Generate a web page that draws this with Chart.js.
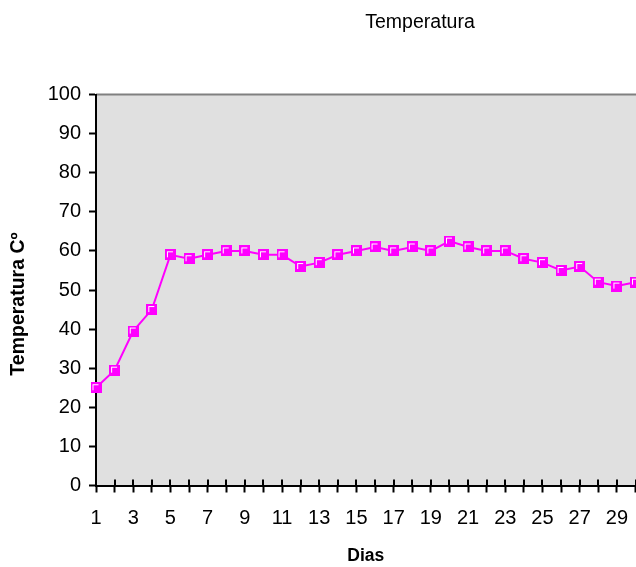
<!DOCTYPE html>
<html>
<head>
<meta charset="utf-8">
<title>Temperatura</title>
<script src="https://cdn.jsdelivr.net/npm/chart.js@4/dist/chart.umd.min.js"></script>
<style>
  html, body { margin: 0; padding: 0; background: #ffffff; overflow: hidden; width: 636px; height: 567px; }
  #wrap { width: 840px; height: 567px; }
</style>
</head>
<body>
<div id="wrap"><canvas id="chart" width="840" height="567"></canvas></div>
<script>
// Daily readings
const dias = ['1','2','3','4','5','6','7','8','9','10','11','12','13','14','15',
              '16','17','18','19','20','21','22','23','24','25','26','27','28','29','30'];
const temperatura = [25, 29.5, 39.5, 45, 59, 58, 59, 60, 60, 59, 59, 56, 57, 59, 60,
                     61, 60, 61, 60, 62.5, 61, 60, 60, 58, 57, 55, 56, 52, 51, 52];
const yTicks = [0, 10, 20, 30, 40, 50, 60, 70, 80, 90, 100];

const FONT = '"Liberation Sans", Arial, sans-serif';
const MAGENTA = '#FF00FF';

// Square marker: magenta block with a thin light bevel on the upper-left
function makeMarker() {
  const c = document.createElement('canvas');
  c.width = 11; c.height = 11;
  const g = c.getContext('2d');
  g.fillStyle = MAGENTA;
  g.fillRect(0, 0, 11, 11);
  g.fillStyle = '#ffffff';
  g.fillRect(2, 2, 6, 1);
  g.fillRect(2, 2, 1, 6);
  return c;
}

// Grey plot background with a dark top edge
const plotBackground = {
  id: 'plotBackground',
  beforeDraw(chart) {
    const { ctx, chartArea: a } = chart;
    ctx.save();
    ctx.fillStyle = '#E0E0E0';
    ctx.fillRect(a.left, a.top, a.right - a.left + 10, a.bottom - a.top);
    ctx.strokeStyle = '#808080';
    ctx.lineWidth = 2;
    ctx.beginPath();
    ctx.moveTo(a.left, a.top);
    ctx.lineTo(a.right + 10, a.top);
    ctx.stroke();
    ctx.restore();
  }
};

// Category ticks cross the axis line; draw the inner half
const innerTicks = {
  id: 'innerTicks',
  afterDraw(chart) {
    const { ctx } = chart;
    const xs = chart.scales.x;
    const bottom = chart.chartArea.bottom;
    ctx.save();
    ctx.strokeStyle = '#000000';
    ctx.lineWidth = 2;
    ctx.beginPath();
    for (let i = 0; i < dias.length; i++) {
      const px = Math.round(xs.getPixelForTick(i));
      ctx.moveTo(px, bottom - 6);
      ctx.lineTo(px, bottom);
    }
    ctx.stroke();
    ctx.restore();
  }
};

// Rotated value-axis caption
const yCaption = {
  id: 'yCaption',
  afterDraw(chart) {
    const { ctx } = chart;
    ctx.save();
    ctx.translate(19, 304);
    ctx.rotate(-Math.PI / 2);
    ctx.font = 'bold 19.5px ' + FONT;
    ctx.fillStyle = '#000000';
    ctx.textAlign = 'center';
    ctx.textBaseline = 'middle';
    ctx.fillText('Temperatura Cº', 0, 0);
    ctx.restore();
  }
};

new Chart(document.getElementById('chart'), {
  type: 'line',
  data: {
    labels: dias,
    datasets: [{
      label: 'Temperatura',
      data: temperatura,
      borderColor: MAGENTA,
      backgroundColor: MAGENTA,
      borderWidth: 2,
      pointStyle: makeMarker(),
      pointRadius: 5.5,
      pointHoverRadius: 5.5,
      tension: 0,
      clip: false
    }]
  },
  options: {
    responsive: false,
    animation: false,
    events: [],
    layout: { padding: 0 },
    plugins: {
      legend: { display: false },
      tooltip: { enabled: false },
      title: {
        display: true,
        text: 'Temperatura',
        color: '#000000',
        font: { family: FONT, size: 19.5, weight: 'normal' },
        padding: { top: 11, bottom: 60.1 }
      }
    },
    scales: {
      x: {
        type: 'category',
        offset: false,
        border: { display: true, color: '#000000', width: 2 },
        grid: { display: true, drawOnChartArea: false, drawTicks: true, tickLength: 7, tickWidth: 2, tickColor: '#000000' },
        ticks: {
          autoSkip: false,
          maxRotation: 0,
          padding: 14,
          color: '#000000',
          font: { family: FONT, size: 20 },
          callback: (v, i) => (i % 2 === 0 ? dias[i] : '')
        },
        title: {
          display: true,
          text: 'Dias',
          color: '#000000',
          font: { family: FONT, size: 17.5, weight: 'bold' },
          padding: { top: 0, bottom: 0 }
        },
        afterFit(s) { s.height = 81.5; }
      },
      y: {
        min: 0,
        max: 100,
        border: { display: true, color: '#000000', width: 2 },
        grid: { display: true, drawOnChartArea: false, drawTicks: true, tickLength: 7, tickWidth: 2, tickColor: '#000000' },
        afterBuildTicks(s) { s.ticks = yTicks.map(v => ({ value: v })); },
        ticks: {
          padding: 8,
          color: '#000000',
          font: { family: FONT, size: 20 }
        },
        afterFit(s) { s.width = 96; }
      },
      // empty margin on the right so the plot ends at the window edge
      margin: {
        type: 'linear',
        position: 'right',
        min: 0,
        max: 1,
        border: { display: false },
        grid: { display: false, drawTicks: false },
        ticks: { display: false },
        afterFit(s) { s.width = 204.5; }
      }
    }
  },
  plugins: [plotBackground, innerTicks, yCaption]
});
</script>
</body>
</html>
